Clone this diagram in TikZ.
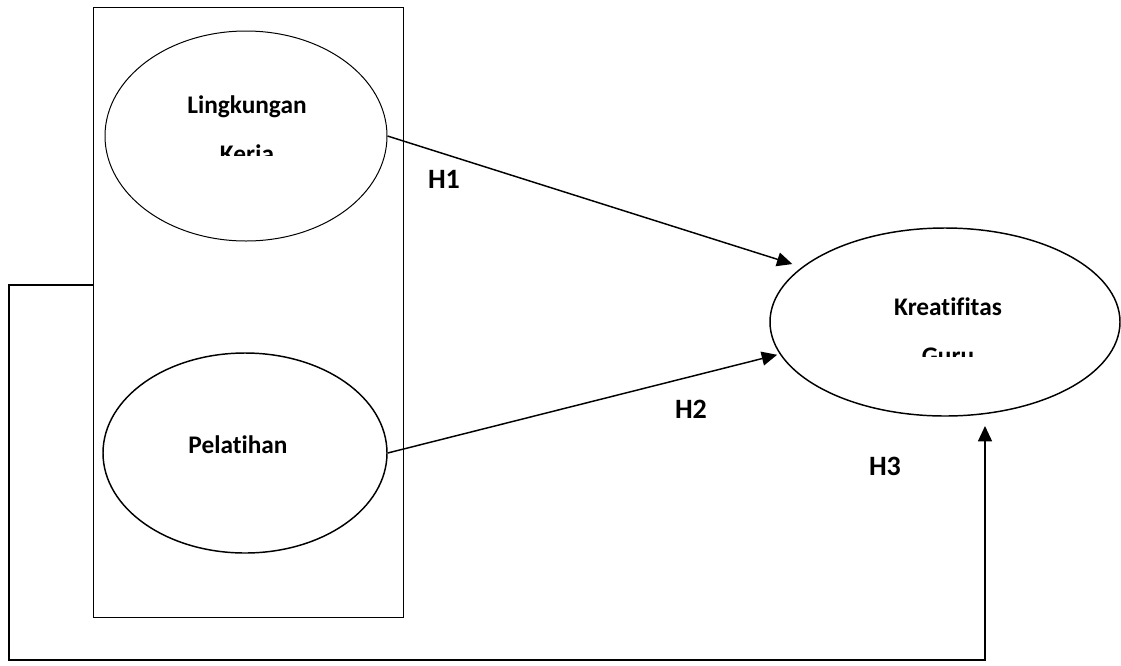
\documentclass[tikz,border=0pt]{standalone}
\usepackage{fontspec}
\setmainfont{Carlito}[Ligatures=NoCommon]
\usetikzlibrary{shapes.geometric,arrows.meta}

\tikzset{every picture/.style={line width=0.75pt}}
\tikzset{
  varname/.style={anchor=base,inner sep=0.75pt,font=\bfseries\fontsize{19}{23}\selectfont},
  hyplabel/.style={anchor=base,inner sep=0.75pt,font=\bfseries\fontsize{21}{25}\selectfont},
  varshape/.style={draw,ellipse,inner sep=0pt},
  hyparrow/.style={line width=1.1pt,-{Triangle[length=11.5pt,width=10.5pt]}}
}

\begin{document}
\begin{tikzpicture}[x=0.75pt,y=0.75pt,yscale=-1,xscale=1]
	\useasboundingbox (0,0) rectangle (1121,665);
	
	%Shape: Rectangle
	\node [draw,minimum width=232.5pt,minimum height=457.5pt,inner sep=0pt] (box) at (248,312) {};
	%Shape: Ellipse
	\node [varshape,minimum width=211.5pt,minimum height=157.5pt] (kerja) at (246,136) {};
	%Shape: Ellipse
	\node [varshape,line width=1.1pt,minimum width=213pt,minimum height=150pt] (latih) at (245,453) {};
	%Shape: Ellipse
	\node [varshape,line width=1.1pt,minimum width=262.5pt,minimum height=141pt] (kreatif) at (945,322) {};
	
	%Straight Lines
	\draw [hyparrow,shorten >=7.5pt] (kerja.east) -- (kreatif.159);
	%Straight Lines
	\draw [hyparrow,shorten >=2pt] (latih.east) -- (kreatif.191);
	%Straight Lines
	\coordinate (h3start) at (93,285);
	\coordinate (h3end) at (985,426);
	\draw [hyparrow] (h3start) -- (9,285) -- (9,660) -- (985,660) -- (h3end);
	
	% Text Node
	\node [varname] (lingkungan) at (247,113) {Lingkungan};
	% Text Node
	\begin{scope}
		\clip (105,100) rectangle (390,155);
		\node [varname] (kerjaword) at (247,162) {Kerja};
	\end{scope}
	% Text Node
	\node [varname] (pelatihan) at (238,453) {Pelatihan};
	% Text Node
	\node [varname] (kreatifitas) at (948,315) {Kreatifitas};
	% Text Node
	\begin{scope}
		\clip (780,320) rectangle (1110,356);
		\node [varname] (guruword) at (948,364) {Guru};
	\end{scope}
	% Text Node
	\node [hyplabel] (hone) at (444,188) {H1};
	% Text Node
	\node [hyplabel] (htwo) at (691,418) {H2};
	% Text Node
	\node [hyplabel] (hthree) at (885,475) {H3};
	
\end{tikzpicture}
\end{document}
